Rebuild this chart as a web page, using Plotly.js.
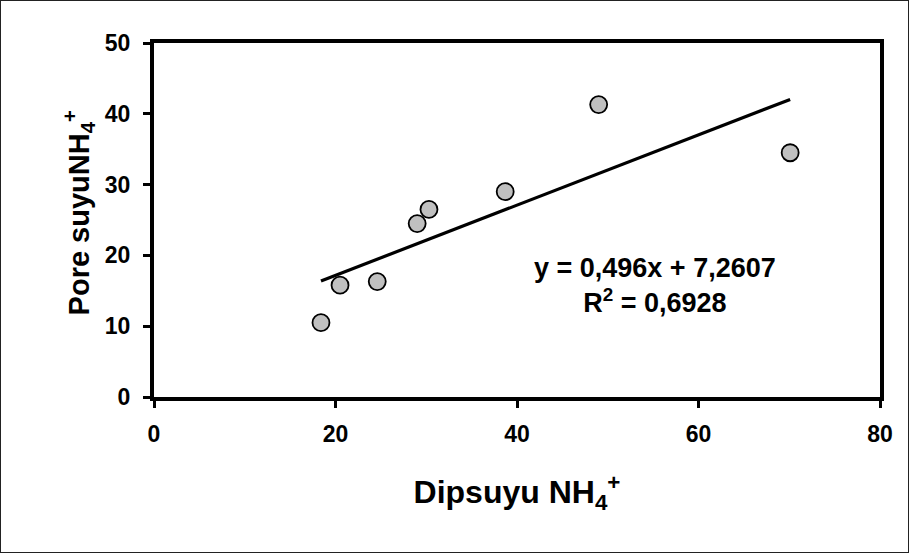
<!DOCTYPE html>
<html><head><meta charset="utf-8">
<script src="https://cdn.plot.ly/plotly-3.0.1.min.js"></script>
<style>
html,body{margin:0;padding:0;background:#fff;}
#chart{position:absolute;left:0;top:0;width:907px;height:551px;border:1px solid #222;}
</style></head>
<body><div id="chart"></div>
<script>
const dipsuyu = [18.4, 20.5, 24.6, 29.0, 30.3, 38.7, 49.0, 70.1];
const poreSuyu = [10.5, 15.8, 16.3, 24.5, 26.5, 29.0, 41.3, 34.5];
const slope = 0.496, intercept = 7.2607;
const eqText = "y = 0,496x + 7,2607<br>R<sup>2</sup> = 0,6928";
const xTitle = "Dipsuyu NH<sub>4</sub><sup>+</sup>";
const yTitle = "Pore suyuNH<sub>4</sub><sup>+</sup>";
const xTicks = [0, 20, 40, 60, 80];
const yTicks = [0, 10, 20, 30, 40, 50];

const xmin = Math.min(...dipsuyu), xmax = Math.max(...dipsuyu);
const fnt = "Liberation Sans, Arial, sans-serif";

const traces = [
  {x:[xmin, xmax], y:[slope*xmin+intercept, slope*xmax+intercept], mode:'lines',
   line:{color:'#000', width:3.2}, hoverinfo:'skip', showlegend:false},
  {x:dipsuyu, y:poreSuyu, mode:'markers', showlegend:false,
   marker:{size:17, color:'#c0c0c0', line:{color:'#000', width:1.8}}}
];

const axBase = {showline:true, linecolor:'#000', linewidth:4, mirror:true,
  ticks:'outside', ticklen:7, tickwidth:3, tickcolor:'#000', showgrid:false, zeroline:false,
  tickfont:{family:fnt, size:23, color:'#000', weight:'bold'}};

const layout = {
  width:907, height:551,
  margin:{l:153, r:28, t:42, b:155},
  paper_bgcolor:'#fff', plot_bgcolor:'#fff',
  font:{family:fnt, color:'#000'},
  xaxis:Object.assign({}, axBase, {range:[0,80], tickvals:xTicks, ticklabelstandoff:6,
    title:{text:'<b>'+xTitle+'</b>', font:{family:fnt, size:32, color:'#000'}, standoff:36}}),
  yaxis:Object.assign({}, axBase, {range:[0,50], tickvals:yTicks, ticklabelstandoff:8}),
  annotations:[
    {x:55.2, y:20.6, xref:'x', yref:'y', text:'<b>'+eqText+'</b>', showarrow:false,
     font:{family:fnt, size:27, color:'#000'}, align:'center', yanchor:'top'},
    {x:-0.104, y:0.52, xref:'paper', yref:'paper', text:'<b>'+yTitle+'</b>', showarrow:false,
     textangle:-90, xanchor:'center', yanchor:'middle', font:{family:fnt, size:29, color:'#000'}}
  ]
};
Plotly.newPlot('chart', traces, layout, {displayModeBar:false, staticPlot:true});
</script></body></html>
